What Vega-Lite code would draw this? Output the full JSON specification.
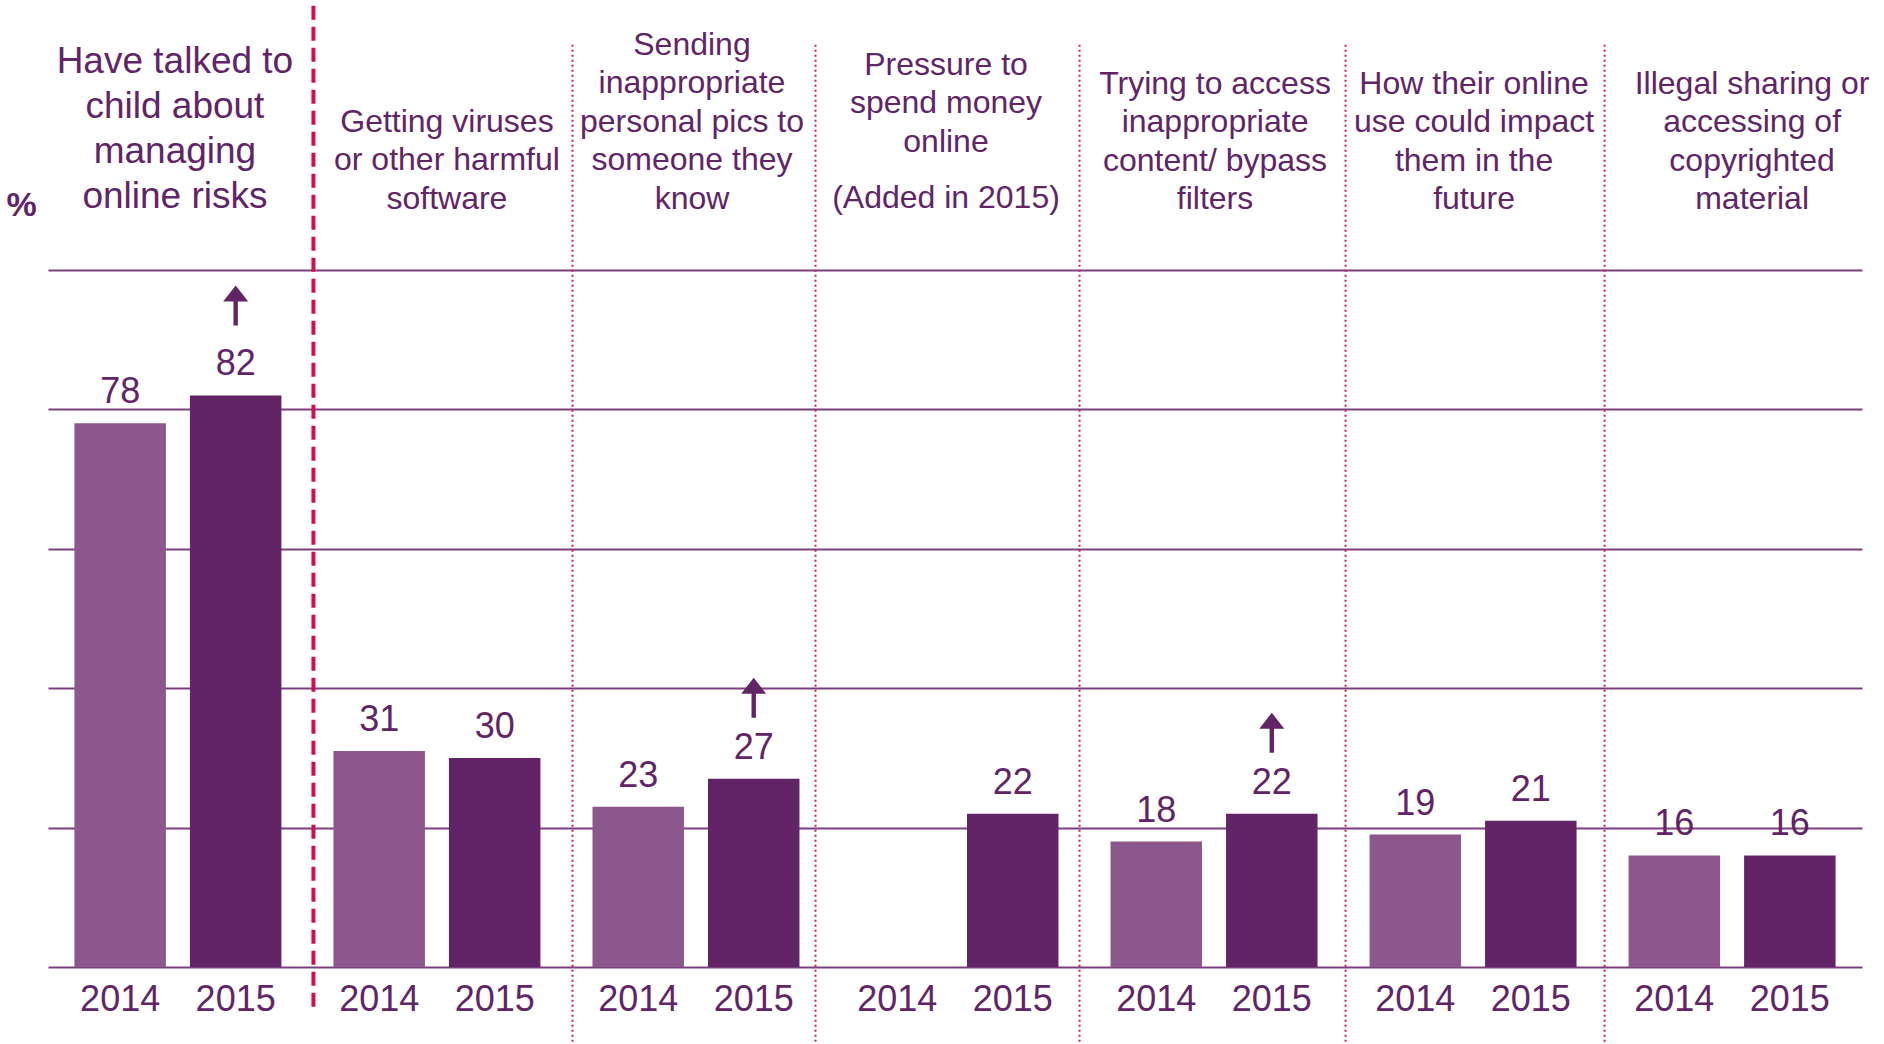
{
  "$schema": "https://vega.github.io/schema/vega-lite/v6.json",
  "autosize": {"type": "none"},
  "width": 1814,
  "height": 697,
  "padding": {"left": 48, "top": 270, "right": 22, "bottom": 77},
  "background": "white",
  "config": {
    "view": {"stroke": null},
    "font": "Liberation Sans",
    "text": {"font": "Liberation Sans", "color": "#612466"},
    "rule": {"color": "#d81b55", "strokeWidth": 2, "strokeDash": [2, 3]}
  },
  "data": {
    "values": [
      {"cat": "Have talked to child about managing online risks", "year": "2014", "value": 78, "sig": false},
      {"cat": "Have talked to child about managing online risks", "year": "2015", "value": 82, "sig": true},
      {"cat": "Getting viruses or other harmful software", "year": "2014", "value": 31, "sig": false},
      {"cat": "Getting viruses or other harmful software", "year": "2015", "value": 30, "sig": false},
      {"cat": "Sending inappropriate personal pics to someone they know", "year": "2014", "value": 23, "sig": false},
      {"cat": "Sending inappropriate personal pics to someone they know", "year": "2015", "value": 27, "sig": true},
      {"cat": "Pressure to spend money online", "year": "2014", "value": null, "sig": false},
      {"cat": "Pressure to spend money online", "year": "2015", "value": 22, "sig": false},
      {"cat": "Trying to access inappropriate content/ bypass filters", "year": "2014", "value": 18, "sig": false},
      {"cat": "Trying to access inappropriate content/ bypass filters", "year": "2015", "value": 22, "sig": true},
      {"cat": "How their online use could impact them in the future", "year": "2014", "value": 19, "sig": false},
      {"cat": "How their online use could impact them in the future", "year": "2015", "value": 21, "sig": false},
      {"cat": "Illegal sharing or accessing of copyrighted material", "year": "2014", "value": 16, "sig": false},
      {"cat": "Illegal sharing or accessing of copyrighted material", "year": "2015", "value": 16, "sig": false}
    ]
  },
  "layer": [
    {
      "mark": {"type": "bar", "orient": "vertical"},
      "encoding": {
        "x": {
          "field": "cat", "type": "nominal", "axis": null,
          "scale": {
            "domain": [
              "Have talked to child about managing online risks",
              "Getting viruses or other harmful software",
              "Sending inappropriate personal pics to someone they know",
              "Pressure to spend money online",
              "Trying to access inappropriate content/ bypass filters",
              "How their online use could impact them in the future",
              "Illegal sharing or accessing of copyrighted material"
            ],
            "paddingInner": 0.2009, "paddingOuter": 0.102
          }
        },
        "xOffset": {"field": "year", "type": "nominal", "scale": {"domain": ["2014", "2015"], "paddingInner": 0.208, "paddingOuter": 0}},
        "y": {
          "field": "value", "type": "quantitative",
          "scale": {"domain": [0, 100], "nice": false, "zero": true},
          "axis": {
            "values": [0, 20, 40, 60, 80, 100],
            "labels": false, "ticks": false, "domain": false,
            "grid": true, "gridColor": "#7b3f7e", "gridWidth": 2,
            "title": "%", "titleAngle": 0, "titleAlign": "center", "titleBaseline": "alphabetic",
            "titleX": -27, "titleY": -55, "titleFontSize": 34, "titleFontWeight": "bold",
            "titleColor": "#612466", "titleFont": "Liberation Sans"
          }
        },
        "color": {
          "field": "year", "type": "nominal", "legend": null,
          "scale": {"domain": ["2014", "2015"], "range": ["#8c578d", "#622466"]}
        }
      }
    },
    {
      "mark": {"type": "text", "baseline": "alphabetic", "align": "center", "dy": -20, "fontSize": 36},
      "encoding": {
        "x": {"field": "cat", "type": "nominal"},
        "xOffset": {"field": "year", "type": "nominal"},
        "y": {"field": "value", "type": "quantitative"},
        "text": {"field": "value", "type": "quantitative"}
      }
    },
    {
      "mark": {"type": "text", "baseline": "alphabetic", "align": "center", "dy": 44, "fontSize": 36},
      "encoding": {
        "x": {"field": "cat", "type": "nominal"},
        "xOffset": {"field": "year", "type": "nominal"},
        "y": {"datum": 0, "type": "quantitative"},
        "text": {"field": "year", "type": "nominal"}
      }
    },
    {
      "transform": [{"filter": "datum.sig && datum.cat !== 'Have talked to child about managing online risks'"}],
      "mark": {"type": "point", "shape": "M0,-1L0.625,-0.2L0.11,-0.2L0.11,1L-0.11,1L-0.11,-0.2L-0.625,-0.2Z", "size": 1600, "filled": true, "opacity": 1, "color": "#612466", "strokeWidth": 0, "yOffset": -81},
      "encoding": {
        "x": {"field": "cat", "type": "nominal"},
        "xOffset": {"field": "year", "type": "nominal"},
        "y": {"field": "value", "type": "quantitative"}
      }
    },
    {
      "transform": [{"filter": "datum.sig && datum.cat === 'Have talked to child about managing online risks'"}],
      "mark": {"type": "point", "shape": "M0,-1L0.625,-0.2L0.11,-0.2L0.11,1L-0.11,1L-0.11,-0.2L-0.625,-0.2Z", "size": 1600, "filled": true, "opacity": 1, "color": "#612466", "strokeWidth": 0, "yOffset": -90},
      "encoding": {
        "x": {"field": "cat", "type": "nominal"},
        "xOffset": {"field": "year", "type": "nominal"},
        "y": {"field": "value", "type": "quantitative"}
      }
    },
    {
      "data": {"values": [{"cat": "Getting viruses or other harmful software"}]},
      "mark": {"type": "rule", "color": "#d0104a", "strokeWidth": 4, "strokeDash": [14, 7], "xOffset": -20},
      "encoding": {
        "x": {"field": "cat", "type": "nominal", "bandPosition": 0},
        "y": {"datum": 137.9, "type": "quantitative"},
        "y2": {"datum": -5.7}
      }
    },
    {
      "data": {"values": [{"cat": "Sending inappropriate personal pics to someone they know"}]},
      "mark": {"type": "rule", "xOffset": -20},
      "encoding": {
        "x": {"field": "cat", "type": "nominal", "bandPosition": 0},
        "y": {"datum": 132.3, "type": "quantitative"},
        "y2": {"datum": -12}
      }
    },
    {
      "data": {"values": [{"cat": "Pressure to spend money online"}]},
      "mark": {"type": "rule", "xOffset": -36},
      "encoding": {
        "x": {"field": "cat", "type": "nominal", "bandPosition": 0},
        "y": {"datum": 132.3, "type": "quantitative"},
        "y2": {"datum": -12}
      }
    },
    {
      "data": {"values": [{"cat": "Trying to access inappropriate content/ bypass filters"}]},
      "mark": {"type": "rule", "xOffset": -31},
      "encoding": {
        "x": {"field": "cat", "type": "nominal", "bandPosition": 0},
        "y": {"datum": 132.3, "type": "quantitative"},
        "y2": {"datum": -12}
      }
    },
    {
      "data": {"values": [
        {"cat": "How their online use could impact them in the future"},
        {"cat": "Illegal sharing or accessing of copyrighted material"}
      ]},
      "mark": {"type": "rule", "xOffset": -24},
      "encoding": {
        "x": {"field": "cat", "type": "nominal", "bandPosition": 0},
        "y": {"datum": 132.3, "type": "quantitative"},
        "y2": {"datum": -12}
      }
    },
    {
      "data": {"values": [
        {"cat": "Have talked to child about managing online risks", "lines": ["Have talked to", "child about", "managing", "online risks"]}
      ]},
      "mark": {"type": "text", "baseline": "alphabetic", "align": "center", "fontSize": 37, "lineHeight": 45, "dx": -3},
      "encoding": {
        "x": {"field": "cat", "type": "nominal"},
        "y": {"datum": 128.2, "type": "quantitative"},
        "text": {"field": "lines", "type": "nominal"}
      }
    },
    {
      "data": {"values": [
        {"cat": "Getting viruses or other harmful software", "lines": ["Getting viruses", "or other harmful", "software"]}
      ]},
      "mark": {"type": "text", "baseline": "alphabetic", "align": "center", "fontSize": 32, "lineHeight": 38.5, "dx": 10},
      "encoding": {
        "x": {"field": "cat", "type": "nominal"},
        "y": {"datum": 119.8, "type": "quantitative"},
        "text": {"field": "lines", "type": "nominal"}
      }
    },
    {
      "data": {"values": [
        {"cat": "Sending inappropriate personal pics to someone they know", "lines": ["Sending", "inappropriate", "personal pics to", "someone they", "know"]}
      ]},
      "mark": {"type": "text", "baseline": "alphabetic", "align": "center", "fontSize": 32, "lineHeight": 38.5, "dx": -4},
      "encoding": {
        "x": {"field": "cat", "type": "nominal"},
        "y": {"datum": 130.9, "type": "quantitative"},
        "text": {"field": "lines", "type": "nominal"}
      }
    },
    {
      "data": {"values": [
        {"cat": "Pressure to spend money online", "lines": ["Pressure to", "spend money", "online"]}
      ]},
      "mark": {"type": "text", "baseline": "alphabetic", "align": "center", "fontSize": 32, "lineHeight": 38.5, "dx": -9},
      "encoding": {
        "x": {"field": "cat", "type": "nominal"},
        "y": {"datum": 128.0, "type": "quantitative"},
        "text": {"field": "lines", "type": "nominal"}
      }
    },
    {
      "data": {"values": [
        {"cat": "Pressure to spend money online", "lines": ["(Added in 2015)"]}
      ]},
      "mark": {"type": "text", "baseline": "alphabetic", "align": "center", "fontSize": 32, "lineHeight": 38.5, "dx": -9},
      "encoding": {
        "x": {"field": "cat", "type": "nominal"},
        "y": {"datum": 108.9, "type": "quantitative"},
        "text": {"field": "lines", "type": "nominal"}
      }
    },
    {
      "data": {"values": [
        {"cat": "Trying to access inappropriate content/ bypass filters", "lines": ["Trying to access", "inappropriate", "content/ bypass", "filters"]},
        {"cat": "How their online use could impact them in the future", "lines": ["How their online", "use could impact", "them in the", "future"]}
      ]},
      "mark": {"type": "text", "baseline": "alphabetic", "align": "center", "fontSize": 32, "lineHeight": 38.5, "dx": 1},
      "encoding": {
        "x": {"field": "cat", "type": "nominal"},
        "y": {"datum": 125.3, "type": "quantitative"},
        "text": {"field": "lines", "type": "nominal"}
      }
    },
    {
      "data": {"values": [
        {"cat": "Illegal sharing or accessing of copyrighted material", "lines": ["Illegal sharing or", "accessing of", "copyrighted", "material"]}
      ]},
      "mark": {"type": "text", "baseline": "alphabetic", "align": "center", "fontSize": 32, "lineHeight": 38.5, "dx": 20},
      "encoding": {
        "x": {"field": "cat", "type": "nominal"},
        "y": {"datum": 125.3, "type": "quantitative"},
        "text": {"field": "lines", "type": "nominal"}
      }
    }
  ]
}
